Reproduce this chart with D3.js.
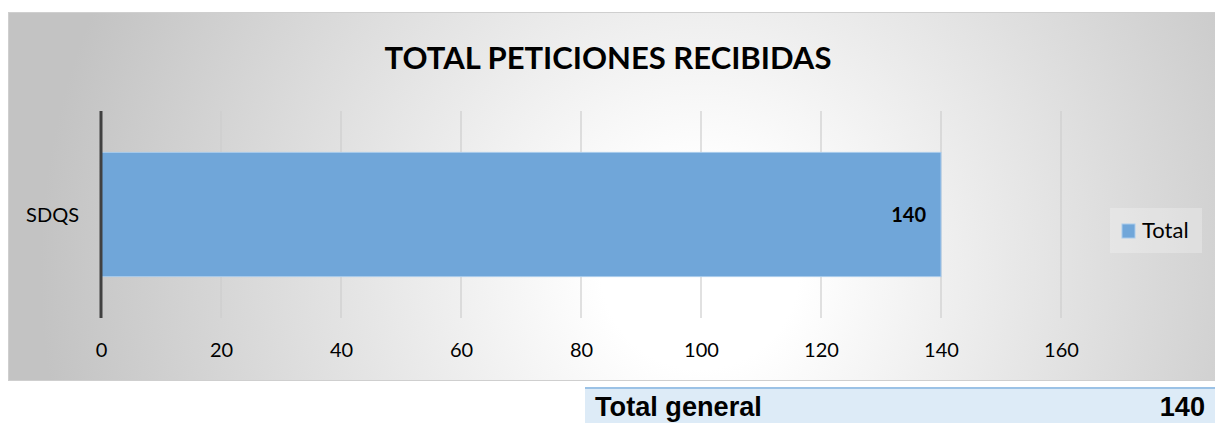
<!DOCTYPE html>
<html lang="es">
<head>
  <meta charset="utf-8">
  <title>Total peticiones recibidas</title>
  <script src="https://d3js.org/d3.v7.min.js"></script>
  <style>
    body { margin: 0; background: #fff; }
    svg text { font-family: Lato, "Open Sans", sans-serif; fill: #000; }
  </style>
</head>
<body>
  <div id="chart"></div>
  <script>
    "use strict"

    var categorias = ["SDQS"];
    var valores = [140];
    var serie = "Total";
    var marcas = [0, 20, 40, 60, 80, 100, 120, 140, 160];
    var titulo = "TOTAL PETICIONES RECIBIDAS";
    var filaTabla = ["Total general"];
    var totalTabla = [140];

    var W = 1215, H = 423;
    var svg = d3.select("#chart").append("svg")
      .attr("width", W).attr("height", H);

    var defs = svg.append("defs");
    var grad = defs.append("radialGradient")
      .attr("id", "fondo").attr("gradientUnits", "userSpaceOnUse")
      .attr("cx", 700).attr("cy", 270).attr("r", 660);
    grad.append("stop").attr("offset", 0.15).attr("stop-color", "#ffffff");
    grad.append("stop").attr("offset", 1).attr("stop-color", "#c3c3c3");

    // marco del grafico
    svg.append("rect")
      .attr("x", 8.5).attr("y", 12.5).attr("width", W).attr("height", 368)
      .attr("fill", "url(#fondo)").attr("stroke", "#cfcfcf");

    // titulo
    var t = svg.append("text")
      .attr("x", 608).attr("y", 69)
      .attr("text-anchor", "middle")
      .style("font-weight", "bold").style("font-size", "28px")
      .text(titulo);
    var tw = t.node().getComputedTextLength();
    t.style("font-size", (28 * 447 / tw) + "px");

    var x = d3.scaleLinear().domain([0, 160]).range([101, 1061]);
    var y = d3.scaleBand().domain(categorias).range([111, 318]).padding(0.25);

    // lineas de division
    svg.append("g").selectAll("line")
      .data(marcas.filter(d => d > 0))
      .enter().append("line")
      .attr("x1", d => x(d)).attr("x2", d => x(d))
      .attr("y1", 111).attr("y2", 318)
      .attr("stroke", "#cdcdcd").attr("stroke-width", 1.2);

    // barras
    svg.append("g").selectAll("rect")
      .data(valores)
      .enter().append("rect")
      .attr("x", x(0))
      .attr("y", (d, i) => y(categorias[i]))
      .attr("width", d => x(d) - x(0))
      .attr("height", y.bandwidth())
      .attr("fill", "#70a6d9")
      .attr("stroke", "#a9cbec").attr("stroke-width", 1);

    // eje vertical
    svg.append("line")
      .attr("x1", x(0)).attr("x2", x(0))
      .attr("y1", 111).attr("y2", 318)
      .attr("stroke", "#404040").attr("stroke-width", 3);

    // etiquetas de eje x
    var ejeX = svg.append("g")
      .attr("transform", "translate(0,357)")
      .call(d3.axisBottom(x).tickValues(marcas).tickSize(0).tickPadding(0));
    ejeX.select(".domain").remove();
    ejeX.selectAll("text")
      .attr("dy", 0)
      .style("font-size", "20px")
      .style("fill", "#000");

    // categorias
    svg.append("g").selectAll("text")
      .data(categorias)
      .enter().append("text")
      .attr("x", 79)
      .attr("y", d => y(d) + y.bandwidth() / 2 + 7)
      .attr("text-anchor", "end")
      .style("font-size", "20px")
      .text(d => d);

    // etiqueta de datos
    svg.append("g").selectAll("text")
      .data(valores)
      .enter().append("text")
      .attr("x", d => x(d) - 15)
      .attr("y", (d, i) => y(categorias[i]) + y.bandwidth() / 2 + 7)
      .attr("text-anchor", "end")
      .style("font-size", "20px").style("font-weight", "bold")
      .text(d => d);

    // leyenda
    var ley = svg.append("g");
    ley.append("rect")
      .attr("x", 1110).attr("y", 208).attr("width", 92).attr("height", 45)
      .attr("fill", "#ffffff").attr("fill-opacity", 0.25);
    ley.append("rect")
      .attr("x", 1122).attr("y", 224).attr("width", 13).attr("height", 14)
      .attr("fill", "#70a6d9").attr("stroke", "#a9cbec");
    ley.append("text")
      .attr("x", 1142).attr("y", 238)
      .style("font-size", "22px")
      .text(serie);

    // tabla inferior
    var tabla = svg.append("g");
    tabla.append("rect")
      .attr("x", 585).attr("y", 387).attr("width", W - 585).attr("height", H - 387)
      .attr("fill", "#ddebf7");
    tabla.append("line")
      .attr("x1", 585).attr("x2", W).attr("y1", 388).attr("y2", 388)
      .attr("stroke", "#9bc2e6").attr("stroke-width", 2);
    var tl = tabla.append("text")
      .attr("x", 595).attr("y", 416)
      .style("font-family", "'Liberation Sans', Arial, sans-serif")
      .style("font-size", "21px").style("font-weight", "bold")
      .text(filaTabla[0]);
    var tlw = tl.node().getComputedTextLength();
    var tamTabla = 21 * 167 / tlw;
    tl.style("font-size", tamTabla + "px");
    tabla.append("text")
      .attr("x", 1205).attr("y", 416)
      .attr("text-anchor", "end")
      .style("font-family", "'Liberation Sans', Arial, sans-serif")
      .style("font-size", tamTabla + "px").style("font-weight", "bold")
      .text(totalTabla[0]);
  </script>
</body>
</html>
